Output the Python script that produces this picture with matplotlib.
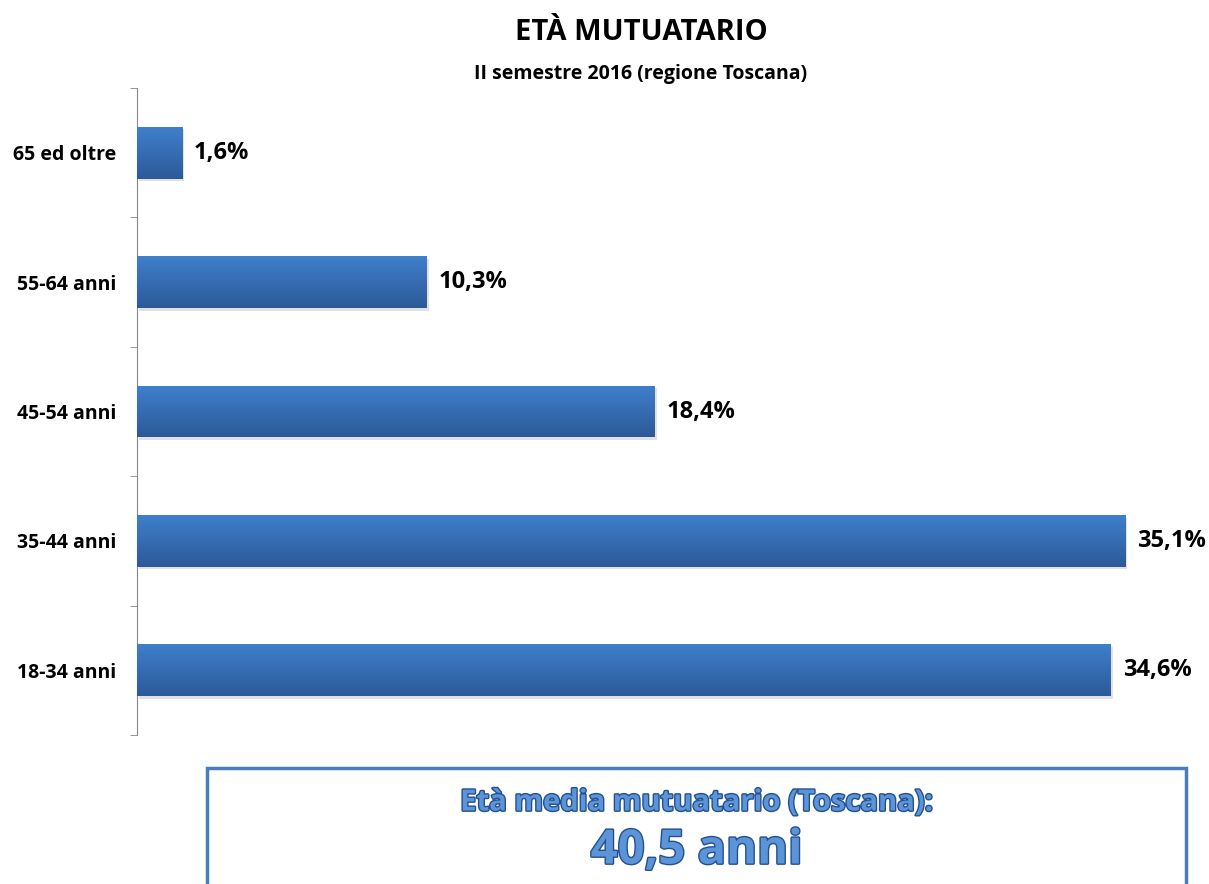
import matplotlib.pyplot as plt
import matplotlib.patheffects as pe
import numpy as np
from matplotlib.patches import Rectangle
from matplotlib.colors import LinearSegmentedColormap

categorie = ['18-34 anni', '35-44 anni', '45-54 anni', '55-64 anni', '65 ed oltre']
valori = [34.6, 35.1, 18.4, 10.3, 1.6]
etichette = ['34,6%', '35,1%', '18,4%', '10,3%', '1,6%']

plt.rcParams['font.family'] = ['Open Sans', 'DejaVu Sans']

W, H = 1209, 884
fig = plt.figure(figsize=(W / 100, H / 100), dpi=100)

# asse: x da 137 a 1190 px, y da 88 a 735 px
ax = fig.add_axes([137 / W, 1 - 735 / H, (1190 - 137) / W, (735 - 88) / H])
ax.set_xlim(0, (1190 - 137) / 28.15)
ax.set_ylim(-0.5, len(categorie) - 0.5)

y = np.arange(len(categorie))
bars = ax.barh(y, valori, height=0.40, color='#3670ba', zorder=2)

# gradiente verticale dentro ogni barra + ombra
grad = np.linspace(0, 1, 100).reshape(-1, 1)
cmap = LinearSegmentedColormap.from_list('blu', ['#2c5a98', '#3f7fcc'])
for b in bars:
    x0, y0 = b.get_x(), b.get_y()
    w, h = b.get_width(), b.get_height()
    ombra = Rectangle((x0 + 0.06, y0 - 0.02), w, h, facecolor='#c4c4c4', alpha=0.5,
                      edgecolor='none', zorder=1)
    ax.add_patch(ombra)
    im = ax.imshow(grad, extent=(x0, x0 + w, y0, y0 + h), origin='lower',
                   cmap=cmap, aspect='auto', zorder=3)
    im.set_clip_path(b)

for yi, v, t in zip(y, valori, etichette):
    ax.text(v + 0.42, yi, t, ha='left', va='center', fontsize=17, fontweight='bold', color='black')

ax.set_yticks(y)
ax.set_yticklabels(categorie, fontsize=14, fontweight='bold')
ax.tick_params(axis='y', which='major', length=0, pad=15)
ax.set_yticks(np.arange(-0.5, len(categorie), 1), minor=True)
ax.tick_params(axis='y', which='minor', length=5, color='#888888', direction='out')
ax.set_xticks([])
for s in ['top', 'right', 'bottom']:
    ax.spines[s].set_visible(False)
ax.spines['left'].set_color('#888888')

fig.text(641 / W, 1 - 33 / H, 'ETÀ MUTUATARIO', ha='center', va='center', fontsize=21, fontweight='bold')
fig.text(641 / W, 1 - 74 / H, 'II semestre 2016 (regione Toscana)', ha='center', va='center',
         fontsize=14, fontweight='bold')

# riquadro in basso
box = Rectangle((207 / W, -0.05), (1186 - 207) / W, (1 - 768 / H) + 0.05, transform=fig.transFigure,
                facecolor='white', edgecolor='#4a7ebb', linewidth=2.5)
fig.patches.append(box)
effetti = [pe.withStroke(linewidth=2, foreground='#24508f')]
cx = (207 + 1186) / 2 / W
fig.text(cx, 1 - 803 / H, 'Età media mutuatario (Toscana):', ha='center', va='center',
         fontsize=21, fontweight='bold', color='#5b95d8', path_effects=effetti)
fig.text(cx, 1 - 851 / H, '40,5 anni', ha='center', va='center',
         fontsize=34, fontweight='bold', color='#5b95d8', path_effects=effetti)

fig.savefig('out.png', dpi=100)
